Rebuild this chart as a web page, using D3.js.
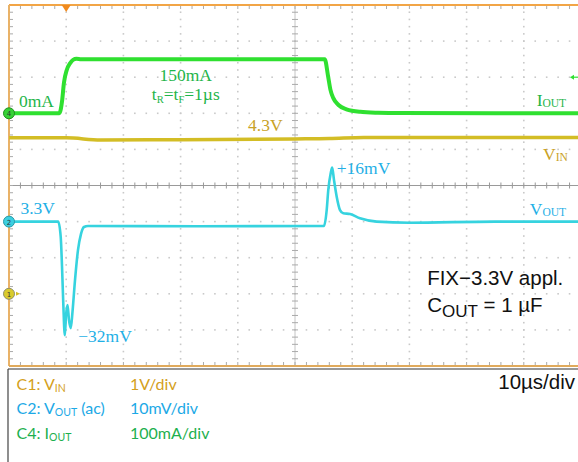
<!DOCTYPE html>
<html>
<head>
<meta charset="utf-8">
<script src="https://d3js.org/d3.v7.min.js"></script>
<style>
  body { margin: 0; background: #fff; }
  svg { display: block; }
</style>
</head>
<body>
<div id="chart"></div>
<script>
//////////////////////////////////////////////////////////
// tiempo en µs desde el borde izquierdo de la pantalla (10 µs/div)
var tIout = [0, 8.8, 9.3, 9.6, 10.1, 10.7, 11.2, 11.8, 12.6, 55.2, 55.8, 56.2, 56.7, 57.6, 59.0, 61.4, 64.5, 68.4, 100];
var iout  = [0, 0, 37, 84, 120, 139, 148, 151, 150, 150, 101, 65, 42, 23, 11, 4, 1.5, 0.5, 0];      // mA

var tVout = [0, 8.6, 9.04, 9.27, 9.49, 9.76, 9.97, 10.23, 10.49, 10.8, 11.1, 11.54, 12.06, 12.59, 13.11, 13.81, 33,
             55.07, 55.54, 55.82, 56.24, 56.5, 56.82, 57.29, 57.87, 58.44, 59.62, 61.36, 64.28, 70, 85, 100];
var vout  = [0, 0, -4.2, -12.5, -22.6, -31.5, -25.9, -23.1, -27.3, -29.5, -25, -16.2, -7.9, -3.4, -1.5, -1.2, -1.3,
             -1.2, 3.2, 8.8, 13.4, 15, 11.5, 6.9, 3.2, 2.3, 2.1, 0.9, 0, -0.3, 0, 0];                  // mV (ac)

var tVin = [0, 10, 16, 30, 50, 56, 62, 100];
var vin  = [4.32, 4.32, 4.26, 4.27, 4.29, 4.30, 4.33, 4.33];                                         // V

// ajustes de los canales: posición de tierra (div) y unidades por división
var canales     = ["C1", "C2", "C4"];
var offsetDiv   = [-3, -1, 2];
var unidadesDiv = [1, 10, 100];
var nivelTrigger = 100;   // mA en C4
var tTrigger = 10;        // µs

var leyendaCanal  = [["C1: V", "IN", ""], ["C2: V", "OUT", " (ac)"], ["C4: I", "OUT", ""]];
var leyendaEscala = ["1V/div", "10mV/div", "100mA/div"];
var baseTiempo = "10\u00b5s/div";

var colTraza = ["#d3bd25", "#36d3df", "#2fe030"];
var colTexto = ["#c9a227", "#1fb0e6", "#1fb54a"];
var colLeyenda = ["#d4a020", "#1ca9e6", "#1db04e"];

var width = 578, height = 462;
var plot = {left: 9, top: 5, right: 581, bottom: 366};

// ESCALAS
//////////////////////////////////////////////////////////
var x = d3.scaleLinear().domain([0, 100]).range([plot.left, plot.right]);
var yDiv = d3.scaleLinear().domain([-5, 5]).range([plot.bottom, plot.top]);

// una escala por canal: valor -> pixel
function escalaCanal(i) {
  return d3.scaleLinear()
    .domain([0, unidadesDiv[i]])
    .range([yDiv(offsetDiv[i]), yDiv(offsetDiv[i] + 1)]);
}
var yVin = escalaCanal(0), yVout = escalaCanal(1), yIout = escalaCanal(2);

var svg = d3.select("#chart").append("svg")
  .attr("width", width)
  .attr("height", height)
  .style("font-family", "Liberation Serif, serif");

svg.append("rect").attr("width", width).attr("height", height).attr("fill", "#fff");

// REJILLA
//////////////////////////////////////////////////////////
var minorT = d3.range(0, 100.01, 2);
var minorD = d3.range(-5, 5.01, 0.2);
var majorT = d3.range(10, 91, 10).filter(function(t){ return t != 50; });
var majorD = d3.range(-4, 5, 1).filter(function(d){ return d != 0; });

var puntos = [];
majorT.forEach(function(t){ minorD.forEach(function(d){ puntos.push([t, d]); }); });
majorD.forEach(function(d){ minorT.forEach(function(t){ puntos.push([t, d]); }); });

var grid = svg.append("g").attr("class", "grid");
grid.selectAll("rect.dot").data(puntos).enter().append("rect")
  .attr("class", "dot")
  .attr("x", function(p){ return x(p[0]) - 0.8; })
  .attr("y", function(p){ return yDiv(p[1]) - 0.8; })
  .attr("width", 1.6).attr("height", 1.6)
  .attr("fill", "#c9c9c9");

// ejes centrales
grid.append("line").attr("x1", x(50)).attr("x2", x(50)).attr("y1", plot.top).attr("y2", plot.bottom)
  .attr("stroke", "#c4c4c4").attr("stroke-width", 1);
grid.append("line").attr("x1", plot.left).attr("x2", plot.right).attr("y1", yDiv(0)).attr("y2", yDiv(0))
  .attr("stroke", "#9a9a9a").attr("stroke-width", 1);

grid.selectAll("line.tx").data(minorT).enter().append("line")
  .attr("class", "tx")
  .attr("x1", function(t){ return x(t); }).attr("x2", function(t){ return x(t); })
  .attr("y1", yDiv(0) - 3).attr("y2", yDiv(0) + 3)
  .attr("stroke", "#999");
grid.selectAll("line.ty").data(minorD).enter().append("line")
  .attr("class", "ty")
  .attr("x1", x(50) - 3).attr("x2", x(50) + 3)
  .attr("y1", function(d){ return yDiv(d); }).attr("y2", function(d){ return yDiv(d); })
  .attr("stroke", "#aaa");

// marcas en los bordes
grid.selectAll("line.top").data(minorT).enter().append("line")
  .attr("x1", function(t){ return x(t); }).attr("x2", function(t){ return x(t); })
  .attr("y1", plot.top).attr("y2", plot.top + 4).attr("stroke", "#aaa");
grid.selectAll("line.bot").data(minorT).enter().append("line")
  .attr("x1", function(t){ return x(t); }).attr("x2", function(t){ return x(t); })
  .attr("y1", plot.bottom - 4).attr("y2", plot.bottom).attr("stroke", "#aaa");
grid.selectAll("line.lft").data(minorD).enter().append("line")
  .attr("x1", plot.left).attr("x2", plot.left + 4)
  .attr("y1", function(d){ return yDiv(d); }).attr("y2", function(d){ return yDiv(d); })
  .attr("stroke", "#aaa");

// borde naranja
svg.append("line").attr("x1", plot.left).attr("x2", width).attr("y1", plot.top).attr("y2", plot.top)
  .attr("stroke", "#f2a546").attr("stroke-width", 2);
svg.append("line").attr("x1", plot.left).attr("x2", plot.left).attr("y1", plot.top).attr("y2", plot.bottom)
  .attr("stroke", "#e9b268").attr("stroke-width", 2);
svg.append("line").attr("x1", plot.left).attr("x2", width).attr("y1", plot.bottom).attr("y2", plot.bottom)
  .attr("stroke", "#e0aa5c").attr("stroke-width", 2);

// TRAZAS
//////////////////////////////////////////////////////////
svg.append("clipPath").attr("id", "clip").append("rect")
  .attr("x", plot.left).attr("y", plot.top).attr("width", plot.right - plot.left).attr("height", plot.bottom - plot.top);

function traza(ts, vs, escala, color, grosor) {
  var linea = d3.line()
    .x(function(d){ return x(d[0]); })
    .y(function(d){ return escala(d[1]); })
    .curve(d3.curveMonotoneX);
  svg.append("path")
    .datum(d3.zip(ts, vs))
    .attr("clip-path", "url(#clip)")
    .attr("d", linea)
    .attr("fill", "none")
    .attr("stroke", color)
    .attr("stroke-width", grosor)
    .attr("stroke-linejoin", "round");
}
traza(tVin, vin, yVin, colTraza[0], 3.5);
traza(tIout, iout, yIout, colTraza[2], 4);
traza(tVout, vout, yVout, colTraza[1], 2.6);

// MARCADORES DE CANAL Y TRIGGER
//////////////////////////////////////////////////////////
var marcas = [
  {n: "1", y: yVin(0), fill: "#d9cb2c", stroke: "#8f8f6a"},
  {n: "2", y: yVout(0), fill: "#3ccfe0", stroke: "#2a9aa8"},
  {n: "4", y: yIout(0), fill: "#36d236", stroke: "#1f8f1f"}
];
var m = svg.selectAll("g.marca").data(marcas).enter().append("g")
  .attr("transform", function(d){ return "translate(" + plot.left + "," + d.y + ")"; });
m.append("circle").attr("r", 5.5).attr("fill", function(d){ return d.fill; })
  .attr("stroke", function(d){ return d.stroke; }).attr("stroke-width", 1);
m.append("text").text(function(d){ return d.n; })
  .attr("text-anchor", "middle").attr("dy", 3)
  .style("font-family", "DejaVu Sans, sans-serif").style("font-size", "7px").attr("fill", "#333");
svg.append("path")
  .attr("d", "M" + (plot.left + 7) + "," + (yVin(0) - 2) + "l4,2l-4,2z")
  .attr("fill", colTraza[0]);

// posición del trigger
svg.append("path")
  .attr("d", "M" + (x(tTrigger) - 4.5) + "," + plot.top + "h9l-4.5,7z")
  .attr("fill", "#f08a1e");
// nivel del trigger (C4)
svg.append("path")
  .attr("d", "M" + (width - 8) + "," + yIout(nivelTrigger) + "l4,-2.5v5z")
  .attr("fill", colTraza[2]);
svg.append("line").attr("x1", width - 5).attr("x2", width).attr("y1", yIout(nivelTrigger)).attr("y2", yIout(nivelTrigger))
  .attr("stroke", colTraza[2]).attr("stroke-width", 1.2);

// ANOTACIONES
//////////////////////////////////////////////////////////
function etiqueta(t, d, partes, color, anchor, size) {
  var txt = svg.append("text")
    .attr("x", x(t)).attr("y", yDiv(d))
    .attr("text-anchor", anchor || "start")
    .attr("fill", color)
    .style("font-size", (size || 17.5) + "px");
  partes.forEach(function(p){
    var s = txt.append("tspan").text(p[0]);
    if (p[1]) s.attr("dy", p[1]);
    if (p[2]) s.style("font-size", p[2] + "px");
  });
  return txt;
}
etiqueta(1.75, 2.17, [["0mA"]], colTexto[2]);
etiqueta(30.9, 2.89, [["150mA"]], colTexto[2], "middle");
etiqueta(30.9, 2.37, [["t"], ["R", 3, 10.5], ["=t", -3], ["F", 3, 10.5], ["=1\u00b5s", -3]], colTexto[2], "middle");
etiqueta(41.8, 1.51, [["4.3V"]], colTexto[0]);
etiqueta(97.4, 2.19, [["I"], ["OUT", 1, 11.5]], colTexto[2], "end");
etiqueta(97.7, 0.71, [["V"], ["IN", 1, 11.5]], colTexto[0], "end");
etiqueta(57.3, 0.32, [["+16mV"]], colTexto[1]);
etiqueta(2.0, -0.79, [["3.3V"]], colTexto[1]);
etiqueta(12.1, -4.33, [["\u221232mV"]], colTexto[1]);
etiqueta(97.4, -0.82, [["V"], ["OUT", 1, 11.5]], colTexto[1], "end");

etiqueta(73.1, -2.76, [["FIX\u22123.3V appl."]], "#111", "start", 20.5)
  .style("font-family", "Liberation Sans, Arial, sans-serif");
etiqueta(73.1, -3.5, [["C"], ["OUT", 5, 17], [" = 1 \u00b5F", -5, 20.5]], "#111", "start", 20.5)
  .style("font-family", "Liberation Sans, Arial, sans-serif");

// LEYENDA
//////////////////////////////////////////////////////////
var caja = svg.append("g").style("font-family", "Lato, sans-serif");
caja.append("line").attr("x1", 8).attr("x2", width).attr("y1", 369).attr("y2", 369).attr("stroke", "#333").attr("stroke-width", 1.2);
caja.append("line").attr("x1", 8).attr("x2", 8).attr("y1", 369).attr("y2", height).attr("stroke", "#444").attr("stroke-width", 1.2);

var filas = caja.selectAll("g.fila").data(canales).enter().append("g")
  .attr("transform", function(d, i){ return "translate(0," + (389.5 + i * 24.8) + ")"; });
var tc = filas.append("text").attr("x", 16.5)
  .attr("fill", function(d, i){ return colLeyenda[i]; })
  .style("font-size", "16px");
tc.append("tspan").text(function(d, i){ return leyendaCanal[i][0]; });
tc.append("tspan").text(function(d, i){ return leyendaCanal[i][1]; }).attr("dy", 2).style("font-size", "10.5px");
tc.append("tspan").text(function(d, i){ return leyendaCanal[i][2]; }).attr("dy", -2);
filas.append("text").attr("x", 130)
  .attr("fill", function(d, i){ return colLeyenda[i]; })
  .style("font-size", "16px")
  .text(function(d, i){ return leyendaEscala[i]; });

caja.append("text").attr("x", 575).attr("y", 389)
  .attr("text-anchor", "end")
  .style("font-family", "Liberation Sans, Arial, sans-serif")
  .style("font-size", "20.5px")
  .attr("fill", "#111")
  .text(baseTiempo);
</script>
</body>
</html>
